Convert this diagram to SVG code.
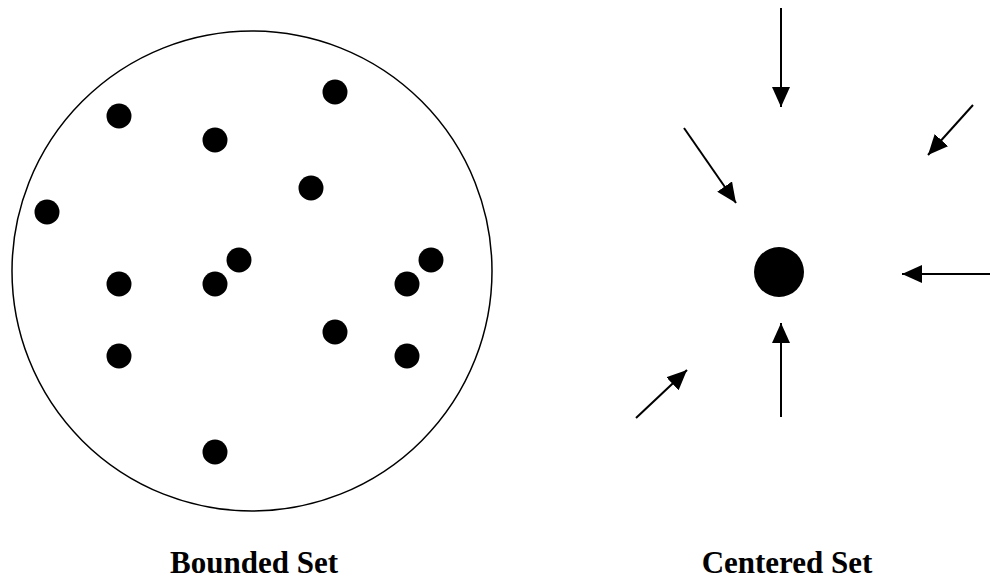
<svg xmlns="http://www.w3.org/2000/svg" width="990" height="580" viewBox="0 0 990 580">
<style>
.dot{fill:#000}
.arr{stroke:#000;stroke-width:2;fill:none;marker-end:url(#ah)}
.lbl{font-family:"Liberation Serif","Times New Roman",serif;font-weight:bold;font-size:31px;fill:#000;text-anchor:middle}
</style>
<defs>
<marker id="ah" markerUnits="userSpaceOnUse" markerWidth="20" markerHeight="18" refX="20" refY="9" orient="auto" viewBox="0 0 20 18">
<path d="M0,0 L20,9 L0,18 Z" fill="#000"/>
</marker>
</defs>
<rect width="990" height="580" fill="#fff"/>
<g id="bounded-set">
<circle cx="252" cy="271" r="240" fill="none" stroke="#000" stroke-width="1.5"/>
<circle class="dot" cx="119" cy="116" r="12.5"/>
<circle class="dot" cx="215" cy="140" r="12.5"/>
<circle class="dot" cx="335" cy="92" r="12.5"/>
<circle class="dot" cx="311" cy="188" r="12.5"/>
<circle class="dot" cx="47" cy="212" r="12.5"/>
<circle class="dot" cx="239" cy="260" r="12.5"/>
<circle class="dot" cx="215" cy="284" r="12.5"/>
<circle class="dot" cx="119" cy="284" r="12.5"/>
<circle class="dot" cx="431" cy="260" r="12.5"/>
<circle class="dot" cx="407" cy="284" r="12.5"/>
<circle class="dot" cx="335" cy="332" r="12.5"/>
<circle class="dot" cx="119" cy="356" r="12.5"/>
<circle class="dot" cx="407" cy="356" r="12.5"/>
<circle class="dot" cx="215" cy="452" r="12.5"/>
</g>
<g id="centered-set">
<circle class="dot" cx="779" cy="272" r="25"/>
</g>
<g id="connectors">
<line class="arr" x1="781" y1="8" x2="781" y2="107"/>
<line class="arr" x1="684" y1="128" x2="736" y2="203"/>
<line class="arr" x1="973" y1="105" x2="928" y2="155"/>
<line class="arr" x1="990" y1="274" x2="902" y2="274"/>
<line class="arr" x1="781" y1="417" x2="781" y2="323"/>
<line class="arr" x1="636" y1="418" x2="687" y2="370"/>
</g>
<g id="labels">
<text class="lbl" x="254" y="573">Bounded Set</text>
<text class="lbl" x="787" y="573">Centered Set</text>
</g>
</svg>
